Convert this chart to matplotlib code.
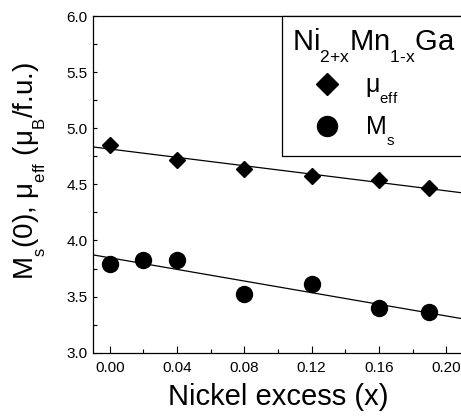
import numpy as np
import matplotlib
matplotlib.use("Agg")
import matplotlib.pyplot as plt
from matplotlib.lines import Line2D
from matplotlib.patches import Rectangle

plt.rcParams['font.family'] = ['Liberation Sans', 'DejaVu Sans']
plt.rcParams['mathtext.fontset'] = 'custom'
plt.rcParams['mathtext.rm'] = 'Liberation Sans'
plt.rcParams['mathtext.it'] = 'Liberation Sans'
plt.rcParams['mathtext.default'] = 'regular'
try:
    import matplotlib._mathtext as _mt
    _mt.SHRINK_FACTOR = 0.6
    _mt.FontConstantsBase.sub1 = 0.8
except Exception:
    pass

# data
x_mu = [0.00, 0.04, 0.08, 0.12, 0.16, 0.19]
mu_eff = [4.85, 4.72, 4.64, 4.57, 4.54, 4.47]
x_ms = [0.00, 0.02, 0.04, 0.08, 0.12, 0.16, 0.19]
ms = [3.79, 3.83, 3.83, 3.52, 3.61, 3.40, 3.36]
xticks = [0.00, 0.04, 0.08, 0.12, 0.16, 0.20]
yticks = [3.0, 3.5, 4.0, 4.5, 5.0, 5.5, 6.0]

fig = plt.figure(figsize=(4.61, 4.20), dpi=100)
ax = fig.add_axes([93/461, 1-352.7/420, 370/461, 336.7/420])

ax.set_xlim(-0.01, 0.21)
ax.set_ylim(3.0, 6.0)

xl = np.array([-0.01, 0.21])
for xs, ys in ((x_mu, mu_eff), (x_ms, ms)):
    p = np.polyfit(xs, ys, 1)
    ax.plot(xl, np.polyval(p, xl), color='black', lw=0.9, zorder=2)

ax.plot(x_mu, mu_eff, 'D', color='black', ms=8.1, zorder=3)
ax.plot(x_ms, ms, 'o', color='black', ms=11.5, zorder=3)

ax.set_xticks(xticks)
ax.set_xticklabels([f"{v:.2f}" for v in xticks])
ax.set_yticks(yticks)
ax.set_yticklabels([f"{v:.1f}" for v in yticks])
ax.set_xticks(np.arange(-0.0, 0.21, 0.02), minor=True)
ax.set_yticks(np.arange(3.0, 6.01, 0.25), minor=True)
ax.tick_params(which='both', direction='in', labelsize=11, width=0.8)
ax.tick_params(axis='x', which='major', length=5, pad=6)
ax.tick_params(axis='x', which='minor', length=3)
ax.tick_params(axis='y', which='major', length=3, pad=4)
ax.tick_params(axis='y', which='minor', length=3)
for s in ax.spines.values():
    s.set_linewidth(0.9)

ax.set_xlabel("Nickel excess (x)", fontsize=21, labelpad=6)
ax.set_ylabel("M$_s$(0), μ$_{eff}$ (μ$_B$/f.u.)", fontsize=20)
ax.yaxis.set_label_coords(-0.125, 0.54)

# legend frame (extends past the right edge like the original)
ax.add_patch(Rectangle((0.511, 0.585), 0.6, 0.415, transform=ax.transAxes,
                       fill=True, facecolor='white', edgecolor='black', lw=0.9,
                       clip_on=False, zorder=4))

handles = [Line2D([], [], ls='none', marker='D', color='black', ms=11),
           Line2D([], [], ls='none', marker='o', color='black', ms=14.4)]
leg = ax.legend(handles, ["μ$_{eff}$", "M$_s$"], title="Ni$_{2{+}x}$Mn$_{1\u2010x}$Ga",
                loc='upper left', bbox_to_anchor=(0.511, 1.0), borderaxespad=0,
                fontsize=18, title_fontsize=21, frameon=False, alignment='left',
                handletextpad=0.1, labelspacing=0.35, borderpad=0.4, handlelength=2.8)
leg.set_zorder(5)

fig.savefig("out.png", dpi=100)
